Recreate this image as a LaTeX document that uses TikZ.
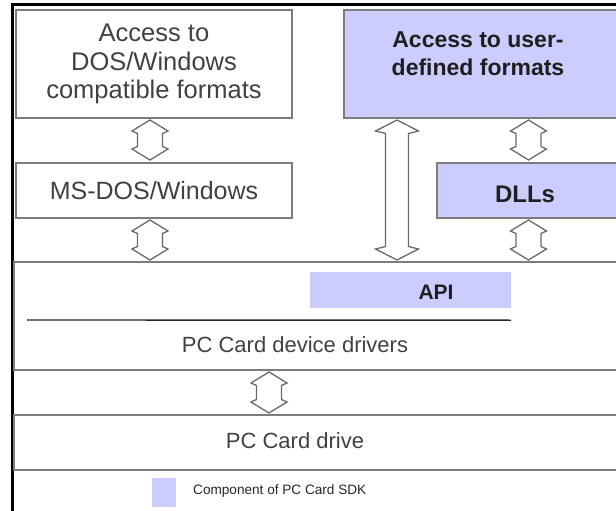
\documentclass[tikz,border=0pt]{standalone}
\usepackage{fontspec}
\setmainfont{Liberation Sans}
\usetikzlibrary{calc}
\definecolor{sdk}{RGB}{204,204,255}
\definecolor{edge}{RGB}{125,125,125}
\definecolor{txt}{RGB}{65,65,65}
\newcommand\dblarrow[4]{%
  \draw[arr] (#1) -- ($(#1)+(-#4,11)$) -- ($(#1)+(-#3,13.5)$)
    -- ($(#2)+(-#3,-13.5)$) -- ($(#2)+(-#4,-11)$) -- (#2)
    -- ($(#2)+(#4,-11)$) -- ($(#2)+(#3,-13.5)$)
    -- ($(#1)+(#3,13.5)$) -- ($(#1)+(#4,11)$) -- cycle;}
\begin{document}
\begin{tikzpicture}[x=1bp,y=-1bp,
  box/.style={draw=edge, line width=1.8bp, rectangle, inner sep=0pt, outer sep=0pt, align=center, text=txt, fill=white},
  sdkbox/.style={box, fill=sdk},
  arr/.style={draw=edge!85!black, line width=1.3bp, fill=white, line join=miter},
  lbl/.style={align=center, text=txt, inner sep=0pt},
  blbl/.style={align=center, text=black!88, inner sep=0pt, font=\bfseries\fontsize{23bp}{28bp}\selectfont}]
\useasboundingbox (0,0) rectangle (616,511);
\clip (0,0) rectangle (616,511);
% outer frame
\draw[line width=3bp] (12,515) -- (12,5) -- (620,5);
% boxes
\node[box, minimum width=276bp, minimum height=108bp, font=\fontsize{25.5bp}{28.5bp}\selectfont] (A) at (154,64)
  {Access to\\DOS/Windows\\compatible formats};
\node[sdkbox, minimum width=276bp, minimum height=108bp] (B) at (482,64) {};
\node[blbl] (Bt) at (478,54) {Access to user-\\defined formats};
\node[box, minimum width=276bp, minimum height=55bp, font=\fontsize{25bp}{28bp}\selectfont] (MS) at (154,190.5) {MS-DOS/Windows};
\node[sdkbox, minimum width=183bp, minimum height=55bp] (DLL) at (528.5,190.5) {};
\node[blbl, font=\bfseries\fontsize{24bp}{28bp}\selectfont] (DLLt) at (525,194) {DLLs};
\node[box, minimum width=606bp, minimum height=108bp] (DRV) at (317,316) {};
\node[fill=sdk, inner sep=0pt, minimum width=201bp, minimum height=36bp] (API) at (410.5,290) {};
\node[blbl, font=\bfseries\fontsize{21bp}{25bp}\selectfont] (APIt) at (436,292) {API};
\draw[line width=1.4bp, black!85] ($(DRV.north west)+(13,58)$) coordinate (L1) -- ($(API.south east)+(0,12)$) coordinate (L2);
\node[lbl, font=\fontsize{22bp}{26bp}\selectfont] (DRVt) at (295,345) {PC Card device drivers};
\node[box, minimum width=606bp, minimum height=55bp] (DRIVE) at (317,442.5) {};
\node[lbl, font=\fontsize{22bp}{26bp}\selectfont] (DRIVEt) at (295,441) {PC Card drive};
% legend
\node[fill=sdk, inner sep=0pt, minimum width=24bp, minimum height=29bp] (LEG) at (164,492.5) {};
\node[lbl, anchor=west, text=black!85, font=\fontsize{13.6bp}{16bp}\selectfont] (LEGt) at (193,491) {Component of PC Card SDK};
% arrows
\coordinate (a1t) at ($(A.south)+(-4,2)$);
\coordinate (a1b) at ($(MS.north)+(-4,-3)$);
\dblarrow{a1t}{a1b}{12.5}{18}
\coordinate (a2t) at ($(MS.south)+(-4,2)$);
\coordinate (a2b) at ($(a2t |- DRV.north)+(0,-2)$);
\dblarrow{a2t}{a2b}{12.5}{18}
\coordinate (a3t) at ($(B.south west)+(53,2)$);
\coordinate (a3b) at ($(a3t |- DRV.north)+(0,-2)$);
\dblarrow{a3t}{a3b}{11.5}{21.5}
\coordinate (a4t) at ($(DLL.north |- B.south)+(0,2)$);
\coordinate (a4b) at ($(DLL.north)+(0,-3)$);
\dblarrow{a4t}{a4b}{12.5}{18}
\coordinate (a5t) at ($(DLL.south)+(0,2)$);
\coordinate (a5b) at ($(a5t |- DRV.north)+(0,-2)$);
\dblarrow{a5t}{a5b}{12.5}{18}
\coordinate (a6t) at ($(DRV.south west)+(255,2)$);
\coordinate (a6b) at ($(a6t |- DRIVE.north)+(0,-2)$);
\dblarrow{a6t}{a6b}{12.5}{18}
\end{tikzpicture}
\end{document}
